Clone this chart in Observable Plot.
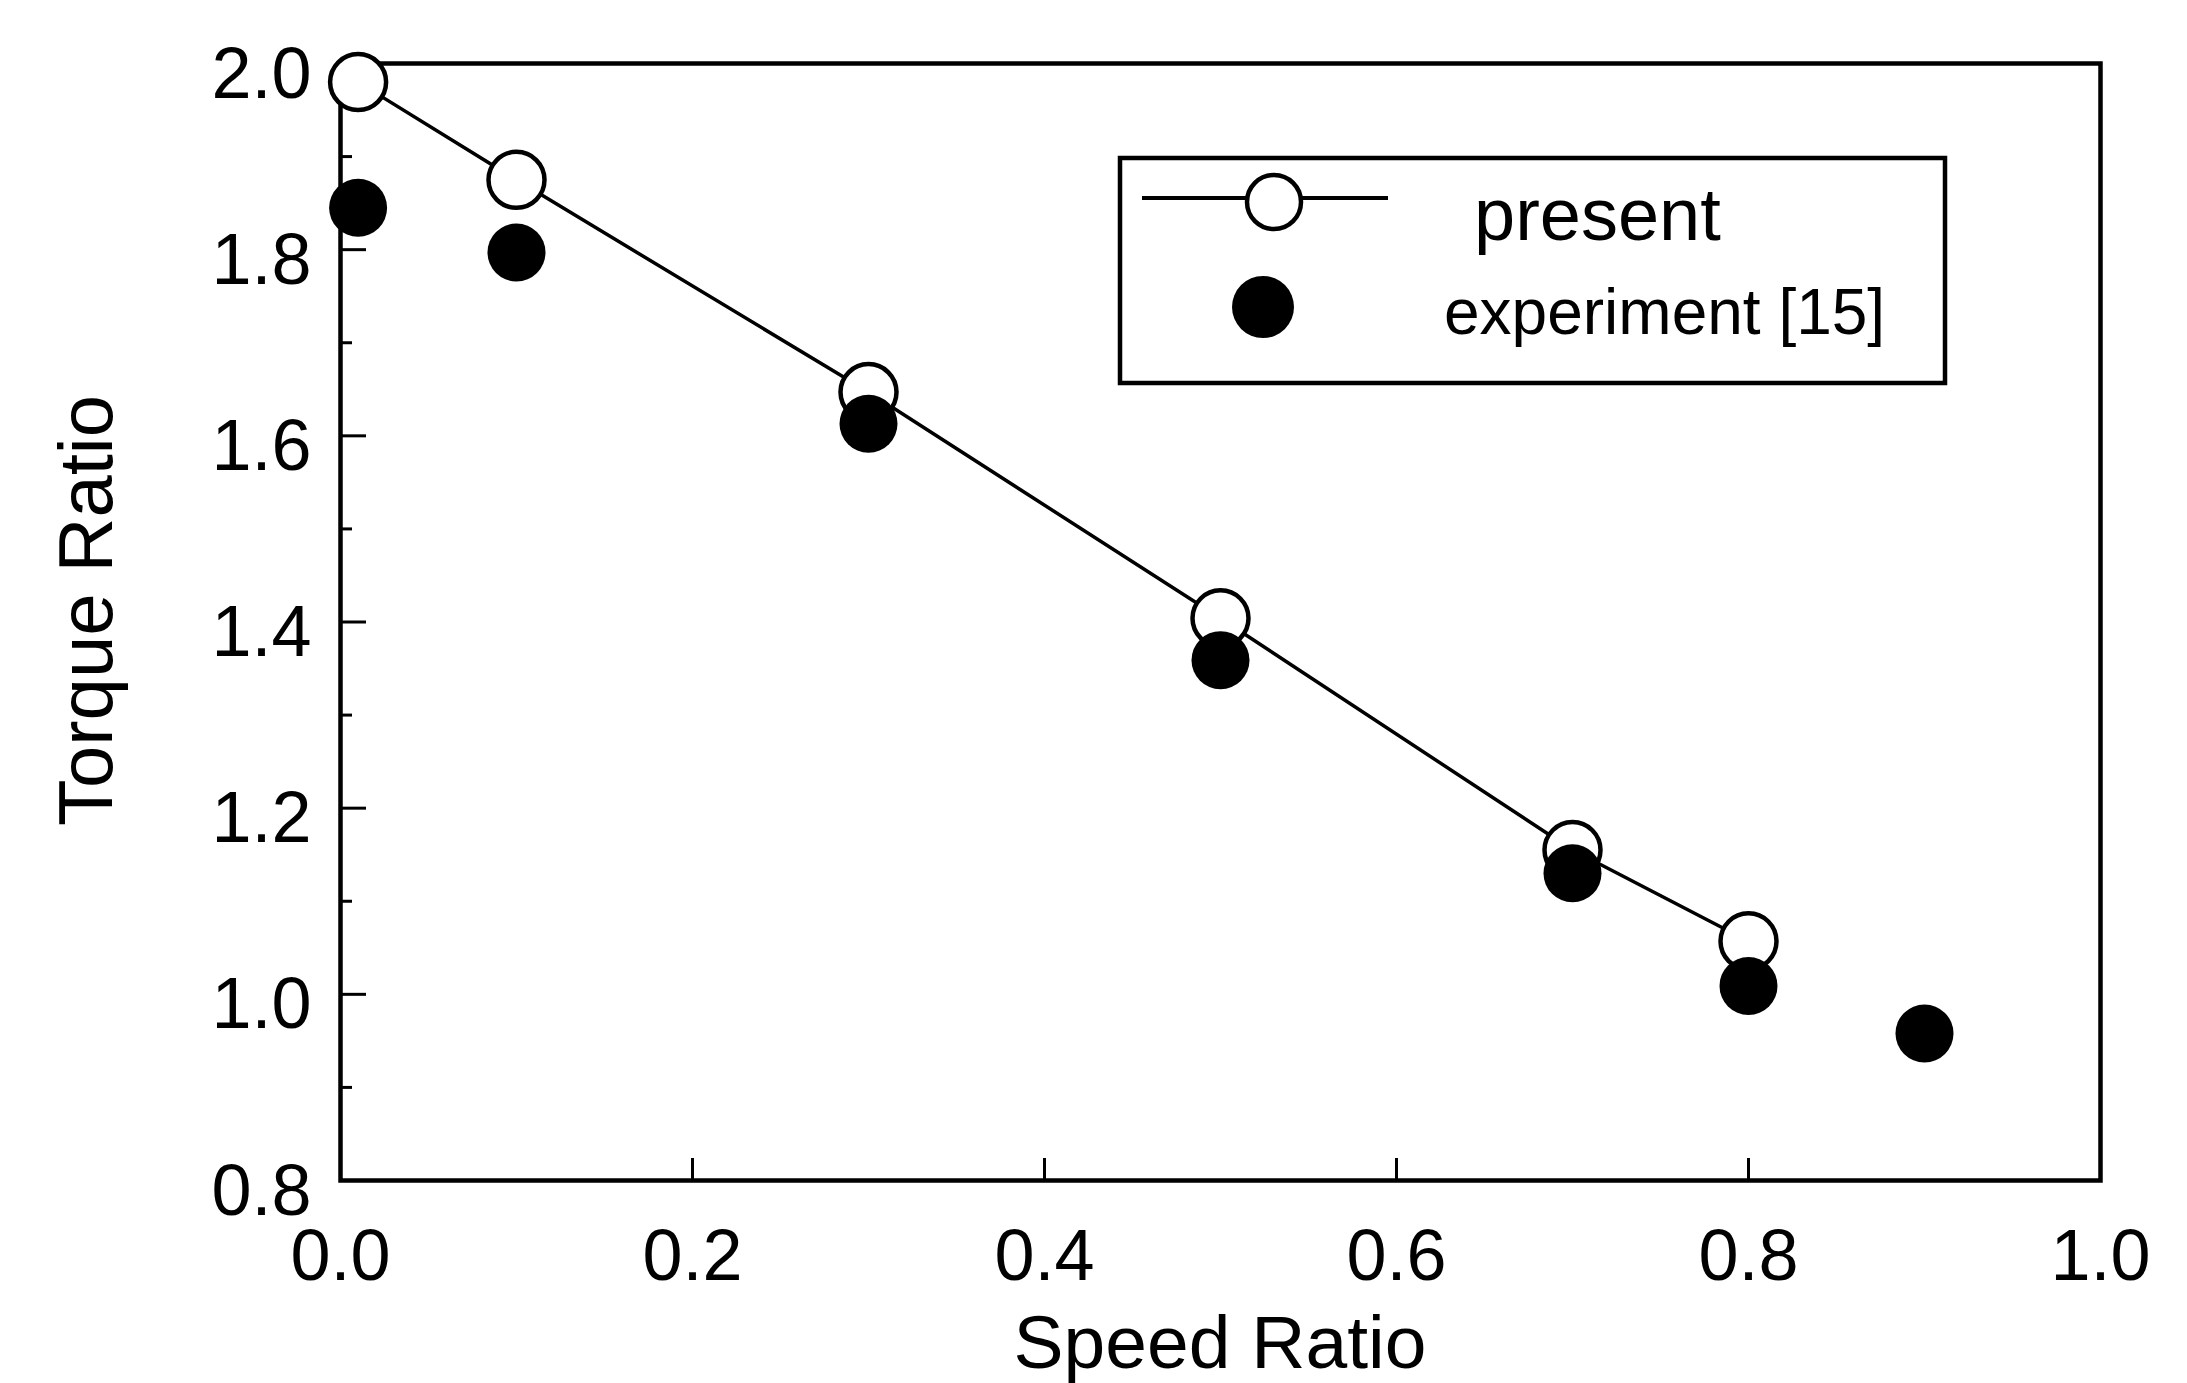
<!DOCTYPE html>
<html>
<head>
<meta charset="utf-8">
<script src="https://cdn.jsdelivr.net/npm/d3@7"></script>
<script src="https://cdn.jsdelivr.net/npm/@observablehq/plot@0.6"></script>
<style>
  html, body { margin: 0; padding: 0; background: #fff; }
  #chart svg { display: block; }
</style>
</head>
<body>
<div id="chart"></div>
<script>
// ---- Data ----
const speedPresent = [0.01, 0.10, 0.30, 0.50, 0.70, 0.80];
const torquePresent = [1.98, 1.875, 1.647, 1.404, 1.155, 1.057];
const speedExperiment = [0.01, 0.10, 0.30, 0.50, 0.70, 0.80, 0.90];
const torqueExperiment = [1.845, 1.797, 1.613, 1.359, 1.130, 1.009, 0.958];
const xTicks = [0.0, 0.2, 0.4, 0.6, 0.8, 1.0];
const yTicks = [0.8, 1.0, 1.2, 1.4, 1.6, 1.8, 2.0];
const yMinorTicks = [0.9, 1.1, 1.3, 1.5, 1.7, 1.9];
const seriesNames = ["present", "experiment [15]"];
const xLabel = "Speed Ratio";
const yLabel = "Torque Ratio";

const present = speedPresent.map((s, i) => ({speed: s, torque: torquePresent[i]}));
const experiment = speedExperiment.map((s, i) => ({speed: s, torque: torqueExperiment[i]}));

// ---- Layout ----
const W = 2187, H = 1383;
const mL = 340, mR = 87, mT = 63, mB = 203;
const frameW = W - mL - mR, frameH = H - mT - mB;
const font = "'Liberation Sans', Arial, Helvetica, sans-serif";

const chart = Plot.plot({
  width: W,
  height: H,
  marginLeft: mL,
  marginRight: mR,
  marginTop: mT,
  marginBottom: mB,
  style: {fontFamily: font, background: "#fff", color: "#000"},
  x: {domain: [0, 1]},
  y: {domain: [0.8, 2.0]},
  marks: [
    Plot.tickX(xTicks.slice(1, -1), {x: d => d, insetTop: frameH - 22, stroke: "#000", strokeWidth: 3}),
    Plot.tickY(yTicks.slice(1, -1), {y: d => d, insetRight: frameW - 26, stroke: "#000", strokeWidth: 3}),
    Plot.tickY(yMinorTicks, {y: d => d, insetRight: frameW - 12, stroke: "#000", strokeWidth: 3}),
    Plot.axisX(xTicks, {tickSize: 0, tickPadding: 48, fontSize: 72, tickFormat: d3.format(".1f"), label: null, fill: "#000"}),
    Plot.axisY(yTicks, {tickSize: 0, tickPadding: 29, fontSize: 72, tickFormat: d3.format(".1f"), label: null, dy: 11, fill: "#000"}),
    Plot.frame({stroke: "#000", strokeWidth: 4.5}),
    Plot.line(present, {x: "speed", y: "torque", stroke: "#000", strokeWidth: 3.5}),
    Plot.dot(present, {x: "speed", y: "torque", r: 28, fill: "#fff", stroke: "#000", strokeWidth: 4.5}),
    Plot.dot(experiment, {x: "speed", y: "torque", r: 29, fill: "#000", stroke: "none"})
  ]
});

document.getElementById("chart").appendChild(chart);

const svg = d3.select(chart);

// ---- Axis titles ----
const titles = svg.append("g").attr("font-family", font).attr("fill", "#000");
titles.append("text")
  .attr("x", mL + frameW / 2).attr("y", 1368)
  .attr("text-anchor", "middle").attr("font-size", 75)
  .text(xLabel);
titles.append("text")
  .attr("transform", `translate(112, ${mT + frameH / 2 - 11}) rotate(-90)`)
  .attr("text-anchor", "middle").attr("font-size", 76)
  .text(yLabel);

// ---- Legend (inside the plot area) ----
const lg = svg.append("g").attr("font-family", font);
lg.append("rect").attr("x", 1120).attr("y", 158).attr("width", 825).attr("height", 225)
  .attr("fill", "#fff").attr("stroke", "#000").attr("stroke-width", 4.5);
lg.append("line").attr("x1", 1142).attr("x2", 1388).attr("y1", 198).attr("y2", 198)
  .attr("stroke", "#000").attr("stroke-width", 4);
lg.append("circle").attr("cx", 1274).attr("cy", 202).attr("r", 27)
  .attr("fill", "#fff").attr("stroke", "#000").attr("stroke-width", 4.5);
lg.append("text").attr("x", 1474).attr("y", 240).attr("font-size", 74)
  .attr("text-anchor", "start").attr("fill", "#000").text(seriesNames[0]);
lg.append("circle").attr("cx", 1263).attr("cy", 307).attr("r", 31).attr("fill", "#000");
lg.append("text").attr("x", 1444).attr("y", 334).attr("font-size", 64)
  .attr("text-anchor", "start").attr("fill", "#000").text(seriesNames[1]);
</script>
</body>
</html>
